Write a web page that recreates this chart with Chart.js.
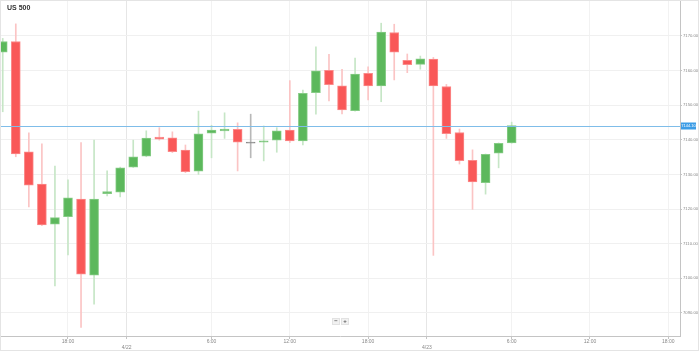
<!DOCTYPE html>
<html>
<head>
<meta charset="utf-8">
<title>US 500</title>
<script src="https://cdn.jsdelivr.net/npm/chart.js@4.4.1/dist/chart.umd.min.js"></script>
<style>
    html, body { margin: 0; padding: 0; background: #fff; }
    #wrap { width: 699px; height: 351px; position: relative; }
</style>
</head>
<body>
<div id="wrap"><canvas id="priceChart"></canvas></div>
<script>
// Hourly candles, US 500
const opens  = [7165.3, 7168.4, 7136.5, 7127.2, 7115.6, 7117.8, 7122.9, 7100.9, 7124.4, 7124.9,
                7132.1, 7135.3, 7140.8, 7140.6, 7137.0, 7130.9, 7141.9, 7142.6, 7143.0, 7139.2,
                7139.3, 7139.9, 7142.8, 7139.7, 7153.6, 7160.1, 7155.6, 7148.4, 7159.2, 7155.6,
                7171.0, 7163.0, 7161.8, 7163.3, 7155.4, 7142.1, 7134.1, 7127.6, 7136.1, 7139.1];
const closes = [7168.4, 7135.9, 7126.9, 7115.4, 7117.5, 7123.2, 7101.2, 7122.9, 7125.0, 7131.9,
                7135.1, 7140.5, 7140.2, 7136.6, 7130.8, 7141.7, 7142.8, 7143.1, 7139.3, 7139.2,
                7139.7, 7142.6, 7139.7, 7153.4, 7159.9, 7155.9, 7148.6, 7159.0, 7155.6, 7171.1,
                7165.3, 7161.7, 7163.4, 7155.6, 7141.8, 7134.0, 7127.8, 7135.8, 7139.0, 7144.1];
const highs  = [7169.3, 7173.5, 7142.0, 7138.8, 7132.4, 7128.4, 7139.2, 7139.9, 7131.0, 7132.1,
                7139.9, 7142.6, 7143.5, 7142.3, 7138.5, 7148.3, 7144.2, 7147.8, 7144.9, 7147.4,
                7144.0, 7143.5, 7157.1, 7154.4, 7166.9, 7164.7, 7160.4, 7163.6, 7161.1, 7173.7,
                7173.4, 7164.8, 7164.2, 7163.8, 7156.0, 7143.1, 7137.1, 7135.9, 7139.1, 7145.1];
const lows   = [7148.1, 7135.1, 7120.6, 7115.2, 7097.8, 7106.7, 7085.8, 7092.5, 7123.8, 7123.5,
                7132.0, 7135.1, 7139.9, 7136.3, 7130.5, 7130.0, 7134.8, 7140.4, 7131.0, 7134.8,
                7133.9, 7136.4, 7139.2, 7138.5, 7147.4, 7151.2, 7147.5, 7148.3, 7151.5, 7151.0,
                7157.3, 7159.4, 7160.4, 7106.6, 7140.4, 7133.0, 7119.9, 7124.3, 7131.9, 7139.0];

// x tick positions (in candle slots) and their labels
const tickSlots = [5, 9.5, 16, 22, 28, 32.5, 39, 45, 51];
const tickTexts = ['18:00', '4/22', '6:00', '12:00', '18:00', '4/23', '6:00', '12:00', '18:00'];
const dateTicks = ['4/22', '4/23'];

// y ticks
const priceTicks = [7090, 7100, 7110, 7120, 7130, 7140, 7150, 7160, 7170];

const UP = '#5cb85c', UP_EDGE = '#86cc86', UP_WICK = '#c6e6c6';
const DOWN = '#f95858', DOWN_EDGE = '#fb8a8a', DOWN_WICK = '#fbc4c4';
const FLAT = '#8a8a8a', FLAT_WICK = '#b8b8b8';

function dirOf(i) {
    if (closes[i] > opens[i]) return 1;
    if (closes[i] < opens[i]) return -1;
    return 0;
}

const bodies = opens.map((o, i) => {
    let a = Math.min(o, closes[i]), b = Math.max(o, closes[i]);
    if (b - a < 0.3) { a -= 0.15; b += 0.15; }
    return { x: i, y: [a, b] };
});
const wicks = opens.map((o, i) => ({ x: i, y: [lows[i], highs[i]] }));

const chartFont = "'Liberation Sans', Arial, sans-serif";

// Extra drawing: frame, title, last-price line, zoom buttons
const decorPlugin = {
    id: 'decor',
    afterDraw(chart) {
        const ctx = chart.ctx;
        const area = chart.chartArea;
        const yScale = chart.scales.y;
        ctx.save();

        // last price line
        const last = closes[closes.length - 1];
        const py = Math.round(yScale.getPixelForValue(last)) + 0.5;
        ctx.strokeStyle = '#7fbde9';
        ctx.lineWidth = 1;
        ctx.beginPath();
        ctx.moveTo(0, py);
        ctx.lineTo(area.right, py);
        ctx.stroke();
        ctx.fillStyle = '#3d9de6';
        ctx.fillRect(area.right + 1, py - 4, 15, 7);
        ctx.fillStyle = '#ffffff';
        ctx.font = '4px ' + chartFont;
        ctx.textBaseline = 'middle';
        ctx.textAlign = 'center';
        ctx.fillText(last.toFixed(2), area.right + 8.5, py - 0.5);

        // title
        ctx.fillStyle = '#333333';
        ctx.font = 'bold 7px ' + chartFont;
        ctx.textAlign = 'left';
        ctx.textBaseline = 'middle';
        ctx.fillText('US 500', 7, 8);

        // zoom buttons
        const btns = [{ x: 332, t: '−' }, { x: 341, t: '+' }];
        btns.forEach(b => {
            ctx.fillStyle = '#f1f1f1';
            ctx.fillRect(b.x, 318, 8, 7);
            ctx.strokeStyle = '#e2e2e2';
            ctx.strokeRect(b.x + 0.5, 318.5, 7, 6);
            ctx.fillStyle = '#555';
            ctx.font = 'bold 6px ' + chartFont;
            ctx.textAlign = 'center';
            ctx.fillText(b.t, b.x + 4, 321.8);
        });

        // outer frame
        ctx.strokeStyle = '#e4e4e4';
        ctx.strokeRect(0.5, 0.5, chart.width - 1, chart.height - 1);
        ctx.restore();
    }
};

const ctx = document.getElementById('priceChart');

new Chart(ctx, {
    type: 'bar',
    data: {
        datasets: [{
            label: 'Body',
            data: bodies,
            order: 0,
            barThickness: 9,
            backgroundColor: bodies.map((_, i) => dirOf(i) > 0 ? UP : dirOf(i) < 0 ? DOWN : FLAT),
            borderColor: bodies.map((_, i) => dirOf(i) > 0 ? UP_EDGE : dirOf(i) < 0 ? DOWN_EDGE : FLAT),
            borderWidth: 1,
            borderSkipped: false
        }, {
            label: 'Wick',
            data: wicks,
            order: 1,
            barThickness: 1,
            backgroundColor: wicks.map((_, i) => dirOf(i) > 0 ? UP_WICK : dirOf(i) < 0 ? DOWN_WICK : FLAT_WICK),
            borderWidth: 0
        }]
    },
    options: {
        responsive: true,
        maintainAspectRatio: false,
        animation: false,
        grouped: false,
        layout: { padding: 0 },
        plugins: {
            legend: { display: false },
            tooltip: { enabled: false }
        },
        scales: {
            x: {
                type: 'linear',
                offset: false,
                min: -0.21,
                max: 51.9,
                afterBuildTicks: function (scale) {
                    scale.ticks = tickSlots.map(v => ({ value: v }));
                },
                afterFit: function (scale) {
                    scale.height = 15;
                    scale.paddingLeft = 0;
                    scale.paddingRight = 0;
                },
                border: { color: '#c4c4c4', width: 1 },
                grid: {
                    offset: false,
                    color: function (c) {
                        const t = c.tick ? tickTexts[tickSlots.indexOf(c.tick.value)] : '';
                        return dateTicks.includes(t) ? '#e6e6e6' : '#f2f2f2';
                    },
                    tickLength: 3,
                    tickColor: '#c4c4c4'
                },
                ticks: {
                    autoSkip: false,
                    maxRotation: 0,
                    padding: 0,
                    color: '#888',
                    font: { size: 5, family: chartFont },
                    callback: function (value) {
                        const t = tickTexts[tickSlots.indexOf(value)];
                        if (dateTicks.includes(t)) return ['', t];
                        return t;
                    }
                }
            },
            y: {
                position: 'right',
                min: 7083.3,
                max: 7180.4,
                afterBuildTicks: function (scale) {
                    scale.ticks = priceTicks.map(v => ({ value: v }));
                },
                afterFit: function (scale) {
                    scale.width = 19;
                    scale.paddingTop = 0;
                    scale.paddingBottom = 0;
                },
                border: { color: '#c4c4c4', width: 1 },
                grid: {
                    color: '#f0f0f0',
                    tickLength: 2,
                    tickColor: '#c4c4c4'
                },
                ticks: {
                    padding: 1,
                    color: '#888',
                    font: { size: 4.2, family: chartFont },
                    callback: function (value) {
                        return value.toFixed(2);
                    }
                }
            }
        }
    },
    plugins: [decorPlugin]
});
</script>
</body>
</html>
